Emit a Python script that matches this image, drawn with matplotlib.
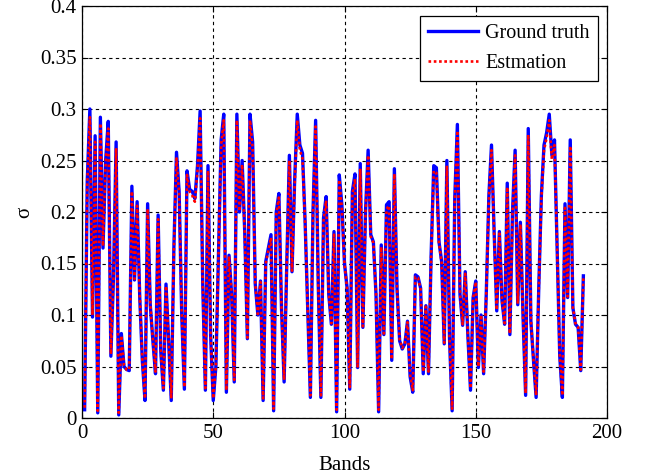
import matplotlib
matplotlib.use("Agg")
import matplotlib.pyplot as plt

bands = list(range(1, 192))

ground_truth = [
    0.008, 0.23, 0.30, 0.098, 0.274, 0.005, 0.292, 0.165, 0.25, 0.288,
    0.06, 0.137, 0.268, 0.003, 0.082, 0.05, 0.047, 0.046, 0.225, 0.134,
    0.21, 0.117, 0.055, 0.017, 0.208,
    0.11, 0.075, 0.043, 0.197, 0.065, 0.027, 0.13, 0.075, 0.017, 0.165,
    0.258, 0.22, 0.1, 0.028, 0.24, 0.222, 0.22, 0.213, 0.245, 0.298,
    0.13, 0.027, 0.245, 0.08, 0.017,
    0.05, 0.16, 0.27, 0.295, 0.025, 0.158, 0.12, 0.035, 0.295, 0.2,
    0.25, 0.18, 0.077, 0.295, 0.268, 0.13, 0.1, 0.133, 0.017, 0.152,
    0.165, 0.178, 0.007, 0.2, 0.218,
    0.107, 0.035, 0.149, 0.255, 0.142, 0.23, 0.295, 0.265, 0.257, 0.19,
    0.105, 0.02, 0.2, 0.289, 0.13, 0.02, 0.194, 0.215, 0.12, 0.091,
    0.181, 0.006, 0.236, 0.207, 0.15,
    0.126, 0.028, 0.22, 0.237, 0.049, 0.247, 0.088, 0.2, 0.26, 0.178,
    0.171, 0.12, 0.006, 0.168, 0.081, 0.207, 0.21, 0.056, 0.242, 0.126,
    0.075, 0.067, 0.072, 0.094, 0.04,
    0.025, 0.139, 0.137, 0.126, 0.043, 0.109, 0.043, 0.158, 0.245, 0.243,
    0.171, 0.152, 0.072, 0.25, 0.078, 0.007, 0.213, 0.285, 0.12, 0.09,
    0.142, 0.08, 0.027, 0.117, 0.133,
    0.049, 0.1, 0.043, 0.12, 0.216, 0.265, 0.181, 0.104, 0.181, 0.114,
    0.091, 0.228, 0.081, 0.2, 0.26, 0.11, 0.19, 0.1, 0.022, 0.281,
    0.094, 0.056, 0.02, 0.126, 0.216,
    0.265, 0.277, 0.295, 0.255, 0.27, 0.165, 0.06, 0.02, 0.208, 0.117,
    0.27, 0.107, 0.091, 0.088, 0.046, 0.138,
]

estimation = [
    0.010, 0.226, 0.292, 0.100, 0.268, 0.007, 0.286, 0.167, 0.247, 0.281,
    0.062, 0.136, 0.262, 0.005, 0.080, 0.051, 0.047, 0.047, 0.220, 0.135,
    0.206, 0.118, 0.056, 0.019, 0.203,
    0.111, 0.076, 0.045, 0.193, 0.066, 0.029, 0.128, 0.076, 0.019, 0.163,
    0.252, 0.218, 0.101, 0.030, 0.236, 0.220, 0.216, 0.210, 0.240, 0.291,
    0.131, 0.029, 0.240, 0.081, 0.019,
    0.051, 0.158, 0.265, 0.289, 0.027, 0.157, 0.121, 0.037, 0.289, 0.201,
    0.246, 0.179, 0.078, 0.289, 0.263, 0.131, 0.101, 0.132, 0.019, 0.150,
    0.163, 0.175, 0.009, 0.198, 0.214,
    0.108, 0.037, 0.148, 0.250, 0.143, 0.226, 0.289, 0.260, 0.252, 0.189,
    0.106, 0.022, 0.198, 0.283, 0.131, 0.022, 0.191, 0.211, 0.121, 0.092,
    0.178, 0.008, 0.231, 0.204, 0.150,
    0.125, 0.030, 0.217, 0.232, 0.050, 0.242, 0.089, 0.198, 0.255, 0.176,
    0.170, 0.121, 0.008, 0.166, 0.082, 0.203, 0.206, 0.057, 0.237, 0.126,
    0.076, 0.068, 0.072, 0.093, 0.042,
    0.027, 0.137, 0.136, 0.125, 0.045, 0.108, 0.045, 0.156, 0.240, 0.238,
    0.170, 0.151, 0.073, 0.245, 0.079, 0.009, 0.210, 0.279, 0.121, 0.091,
    0.140, 0.081, 0.029, 0.116, 0.132,
    0.050, 0.100, 0.045, 0.120, 0.213, 0.260, 0.180, 0.105, 0.179, 0.114,
    0.092, 0.224, 0.082, 0.198, 0.255, 0.111, 0.188, 0.101, 0.024, 0.275,
    0.095, 0.057, 0.022, 0.125, 0.213,
    0.260, 0.272, 0.289, 0.251, 0.265, 0.166, 0.061, 0.022, 0.204, 0.118,
    0.264, 0.107, 0.092, 0.088, 0.047, 0.136,
]

xticks = [0, 50, 100, 150, 200]
yticks = [0, 0.05, 0.1, 0.15, 0.2, 0.25, 0.3, 0.35, 0.4]
ytick_labels = ["0", "0.05", "0.1", "0.15", "0.2", "0.25", "0.3", "0.35", "0.4"]

plt.rcParams['font.family'] = ['Liberation Serif', 'DejaVu Serif']

W, H = 647, 476
fig = plt.figure(figsize=(W / 100, H / 100), dpi=100)
ax = fig.add_axes([82 / W, 1 - 418 / H, (607 - 82) / W, (418 - 6) / H])

ax.plot(bands, ground_truth, color='#0000ff', lw=2.4, label='Ground truth')
ax.plot(bands, estimation, color='#ff0000', lw=1.9, ls=(0, (1, 1)),
        label='Estmation')

ax.set_xlim(0, 200)
ax.set_ylim(0, 0.4)
ax.set_xticks(xticks)
ax.set_xticklabels([str(t) for t in xticks])
ax.set_yticks(yticks)
ax.set_yticklabels(ytick_labels)
ax.tick_params(direction='in', top=True, right=True, labelsize=15, length=4,
               width=0.8, pad=4)
ax.grid(True, color='black', ls=(0, (3, 3)), lw=0.8)
for s in ax.spines.values():
    s.set_linewidth(0.9)

ax.set_xlabel('Bands', fontsize=15, labelpad=10)
ax.set_ylabel('σ', fontsize=15, labelpad=4)

leg = ax.legend(loc='upper right', bbox_to_anchor=(598 / W, 1 - 16 / H),
                bbox_transform=fig.transFigure, borderaxespad=0,
                fontsize=14.5, handlelength=2.5, handletextpad=0.35,
                fancybox=False, edgecolor='black', framealpha=1,
                borderpad=0.4, labelspacing=0.55)
leg.get_frame().set_linewidth(0.9)

fig.savefig('out.png', dpi=100)
